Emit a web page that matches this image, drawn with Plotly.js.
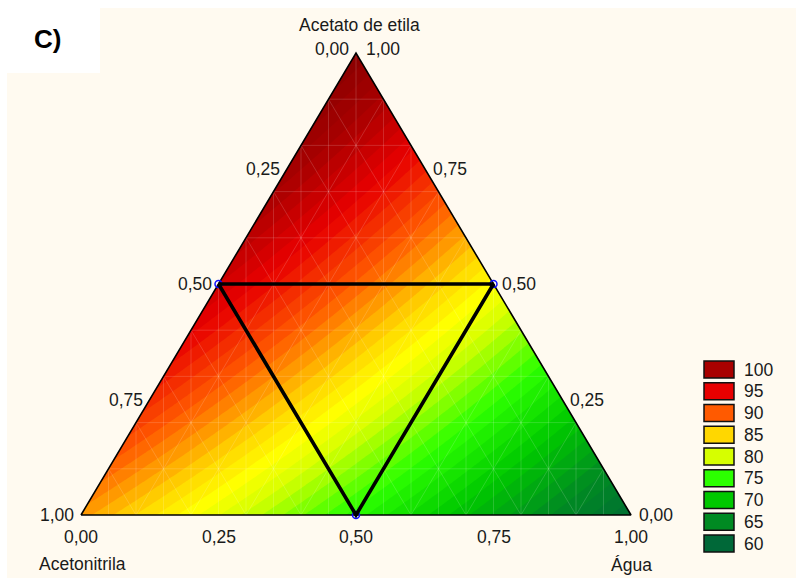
<!DOCTYPE html>
<html>
<head>
<meta charset="utf-8">
<script src="https://cdn.plot.ly/plotly-3.0.1.min.js"></script>
<style>html,body{margin:0;padding:0;background:#fff;}#chart{width:796px;height:578px;}</style>
</head>
<body>
<div id="chart"></div>
<script>
// ---- data ----
const componentNames = ['Acetato de etila', 'Acetonitrila', 'Água'];   // top, left, right vertices
const vertexValues = [104, 87.5, 61];          // response at pure A, B, C
const edgeMidValues = [97, 82.5, 74.5];        // response at AB, AC, BC midpoints (1:1 blends)
const designA = [0.5, 0.5, 0.0];               // design points (Acetato fraction)
const designB = [0.5, 0.0, 0.5];               // Acetonitrila fraction
const designC = [0.0, 0.5, 0.5];               // Água fraction
const tickValues = [0, 0.25, 0.5, 0.75, 1];
const tickLabels = ['0,00', '0,25', '0,50', '0,75', '1,00'];
const legendLevels = [100, 95, 90, 85, 80, 75, 70, 65, 60];
const legendColors = ['#a80000', '#e80000', '#ff5a00', '#ffd700', '#d6ff00', '#2cff00', '#00c800', '#008a22', '#006838'];
const panelLabel = 'C)';

// ---- Scheffé quadratic model determined by the 6 read values ----
const [zA, zB, zC] = vertexValues;
const bAB = 4 * edgeMidValues[0] - 2 * (zA + zB);
const bAC = 4 * edgeMidValues[1] - 2 * (zA + zC);
const bBC = 4 * edgeMidValues[2] - 2 * (zB + zC);
function model(A, B, C) { return zA*A + zB*B + zC*C + bAB*A*B + bAC*A*C + bBC*B*C; }

// barycentric -> cartesian (bottom-left = B, bottom-right = C, top = A)
function toXY(A, B, C) { const s = A + B + C; return [(C + A / 2) / s, A / s]; }

// grid
const gx = [], gy = [], gz = [];
const step = 0.004;
for (let v = -0.02; v <= 1.0201; v += step) { gx.push(+v.toFixed(4)); gy.push(+v.toFixed(4)); }
for (const y of gy) {
  const row = [];
  for (const x of gx) {
    const A = y, C = x - y / 2, B = 1 - A - C;
    row.push(model(A, B, C));
  }
  gz.push(row);
}

// colorscale from legend colours (plus a pure-yellow mid stop and end stops)
const zmin = 58, zmax = 106;
const csPairs = [[58, '#005a30']].concat(legendLevels.map((v, i) => [v, legendColors[i]])).concat([[82.5, '#ffff00'], [106, '#7c0000']]);
csPairs.sort((a, b) => a[0] - b[0]);
const colorscale = csPairs.map(p => [(p[0] - zmin) / (zmax - zmin), p[1]]);

// pixel geometry helpers
const W = 796, H = 578, ML = 7, MT = 8;
const px0 = 81, pxW = 550, py0 = 515, pyH = 462;
const xr = [(ML - px0) / pxW, (W - px0) / pxW];
const yr = [(py0 - H) / pyH, (py0 - MT) / pyH];
const paperX = px => (px - ML) / (W - ML);
const paperY = py => (H - py) / (H - MT);

const traces = [];
traces.push({
  type: 'contour', x: gx, y: gy, z: gz, colorscale: colorscale,
  zmin: zmin, zmax: zmax, zauto: false, showscale: false,
  contours: { start: 57, end: 107, size: 1, coloring: 'fill', showlines: false },
  line: { width: 0 }, hoverinfo: 'skip'
});

// faint mesh lines
const mx = [], my = [];
for (let k = 1; k < 20; k++) {
  const x = k * 0.05; const top = Math.min(2 * x, 2 * (1 - x));
  mx.push(x, x, null); my.push(0, top, null);
}
for (let k = 1; k < 10; k++) {
  const t = k * 0.1;
  let p = toXY(t, 1 - t, 0), q = toXY(t, 0, 1 - t);
  mx.push(p[0], q[0], null); my.push(p[1], q[1], null);
  p = toXY(0, 1 - t, t); q = toXY(1 - t, 0, t);
  mx.push(p[0], q[0], null); my.push(p[1], q[1], null);
  p = toXY(0, t, 1 - t); q = toXY(1 - t, t, 0);
  mx.push(p[0], q[0], null); my.push(p[1], q[1], null);
}
traces.push({ type: 'scatter', mode: 'lines', x: mx, y: my, line: { color: 'rgba(255,255,255,0.2)', width: 0.8 }, hoverinfo: 'skip', showlegend: false });

// mask outside triangle
const V0 = toXY(0, 1, 0), V1 = toXY(0, 0, 1), V2 = toXY(1, 0, 0);
traces.push({
  type: 'scatter', mode: 'lines', fill: 'toself', fillcolor: '#fffaf0', line: { width: 0, color: '#fffaf0' },
  x: [V0[0], V1[0], V2[0], V0[0], -0.5, -0.5, 1.6, 1.6, -0.5, V0[0]],
  y: [V0[1], V1[1], V2[1], V0[1], -0.5, 1.5, 1.5, -0.5, -0.5, V0[1]],
  hoverinfo: 'skip', showlegend: false
});

// triangle outline
traces.push({ type: 'scatter', mode: 'lines', x: [V0[0], V1[0], V2[0], V0[0]], y: [V0[1], V1[1], V2[1], V0[1]],
  line: { color: '#000', width: 1.6 }, hoverinfo: 'skip', showlegend: false, cliponaxis: false });

// design points
const dxy = designA.map((a, i) => toXY(a, designB[i], designC[i]));
traces.push({ type: 'scatter', mode: 'markers', x: dxy.map(p => p[0]), y: dxy.map(p => p[1]),
  marker: { symbol: 'circle-open', size: 7, color: '#1010ff', line: { width: 1.5, color: '#1010ff' } },
  hoverinfo: 'skip', showlegend: false, cliponaxis: false });
traces.push({ type: 'scatter', mode: 'lines', x: dxy.map(p => p[0]).concat([dxy[0][0]]), y: dxy.map(p => p[1]).concat([dxy[0][1]]),
  line: { color: '#000', width: 3.6 }, hoverinfo: 'skip', showlegend: false, cliponaxis: false });

// annotations: tick labels, titles
const font = { family: 'Arial, "Liberation Sans", sans-serif', size: 17.5, color: '#1a1a1a' };
const ann = [];
tickValues.forEach((t, i) => {
  // left edge: Acetonitrila fraction
  let p = toXY(1 - t, t, 0);
  ann.push({ x: p[0], y: p[1], xref: 'x', yref: 'y', text: tickLabels[i], showarrow: false, xanchor: 'right', yanchor: 'middle', xshift: -5, yshift: i === 0 ? 4 : 0, font: font });
  // right edge: Acetato fraction
  p = toXY(t, 0, 1 - t);
  ann.push({ x: p[0], y: p[1], xref: 'x', yref: 'y', text: tickLabels[i], showarrow: false, xanchor: 'left', yanchor: 'middle', xshift: i === 4 ? 8 : 6, yshift: i === 4 ? 4 : 0, font: font });
  // bottom edge: Água fraction
  p = toXY(0, 1 - t, t);
  ann.push({ x: p[0], y: p[1], xref: 'x', yref: 'y', text: tickLabels[i], showarrow: false, xanchor: 'center', yanchor: 'middle', yshift: -22, font: font });
});
ann.push({ x: V2[0], y: V2[1], xref: 'x', yref: 'y', text: componentNames[0], showarrow: false, xanchor: 'center', yanchor: 'middle', xshift: 3, yshift: 28, font: font });
ann.push({ x: V0[0], y: V0[1], xref: 'x', yref: 'y', text: componentNames[1], showarrow: false, xanchor: 'center', yanchor: 'middle', xshift: 1, yshift: -49, font: font });
ann.push({ x: V1[0], y: V1[1], xref: 'x', yref: 'y', text: componentNames[2], showarrow: false, xanchor: 'center', yanchor: 'middle', xshift: 0, yshift: -50, font: font });
ann.push({ x: paperX(47), y: paperY(39), xref: 'paper', yref: 'paper', text: '<b>' + panelLabel + '</b>', showarrow: false, xanchor: 'center', yanchor: 'middle', font: { family: 'Arial, "Liberation Sans", sans-serif', size: 26, color: '#000' } });

// legend
const shapes = [];
shapes.push({ type: 'rect', xref: 'paper', yref: 'paper', x0: paperX(0), x1: paperX(100), y0: paperY(73), y1: paperY(0), fillcolor: '#ffffff', line: { width: 0 } });
legendLevels.forEach((lv, i) => {
  const top = 361 + i * 21.75;
  shapes.push({ type: 'rect', xref: 'paper', yref: 'paper', x0: paperX(704), x1: paperX(734), y0: paperY(top + 17), y1: paperY(top), fillcolor: legendColors[i], line: { color: '#111', width: 1.5 } });
  ann.push({ x: paperX(742), y: paperY(top + 8.5), xref: 'paper', yref: 'paper', text: String(lv), showarrow: false, xanchor: 'left', yanchor: 'middle', font: font });
});

const layout = {
  width: W, height: H,
  paper_bgcolor: '#ffffff', plot_bgcolor: '#fffaf0',
  margin: { l: ML, r: 0, t: MT, b: 0, pad: 0 },
  xaxis: { range: xr, visible: false, fixedrange: true },
  yaxis: { range: yr, visible: false, fixedrange: true },
  showlegend: false, annotations: ann, shapes: shapes
};
Plotly.newPlot('chart', traces, layout, { displayModeBar: false, staticPlot: true });
</script>
</body>
</html>
